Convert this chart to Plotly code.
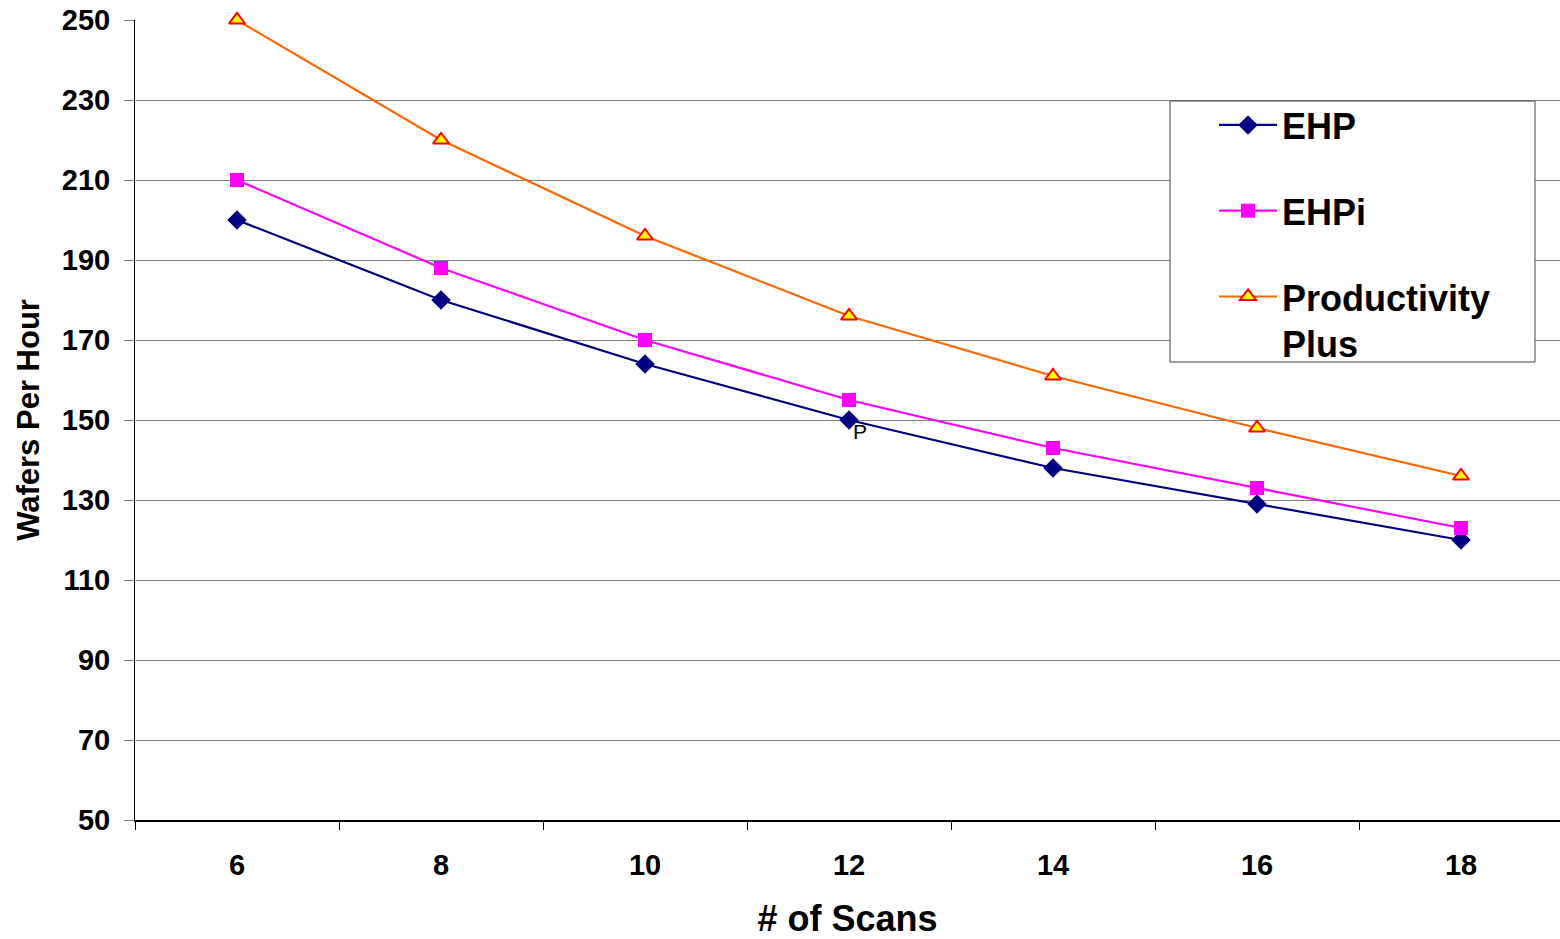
import plotly.graph_objects as go

scans = [6, 8, 10, 12, 14, 16, 18]
ehp = [200, 180, 164, 150, 138, 129, 120]
ehpi = [210, 188, 170, 155, 143, 133, 123]
prod_plus = [250, 220, 196, 176, 161, 148, 136]
y_ticks = [50, 70, 90, 110, 130, 150, 170, 190, 210, 230, 250]

FONT = "Arial, Liberation Sans, sans-serif"

fig = go.Figure()
fig.add_trace(go.Scatter(x=scans, y=ehp, name="EHP", mode="lines+markers", legendgroup="a",
                         cliponaxis=False, line=dict(color="#000080", width=2.2),
                         marker=dict(symbol="diamond", size=15, color="#000080")))
fig.add_trace(go.Scatter(x=scans, y=ehpi, name="EHPi", mode="lines+markers", legendgroup="b",
                         cliponaxis=False, line=dict(color="#FF00FF", width=2.2),
                         marker=dict(symbol="square", size=14, color="#FF00FF")))
fig.add_trace(go.Scatter(x=scans, y=prod_plus, name="Productivity<br>Plus", mode="lines+markers", legendgroup="c",
                         cliponaxis=False, line=dict(color="#FF6600", width=2.2),
                         marker=dict(symbol="triangle-up", size=14, color="#FFFF00",
                                     line=dict(color="#FF0000", width=2))))

fig.add_annotation(x=12, y=150, text="P", showarrow=False, xanchor="left", yanchor="top",
                   xshift=2, yshift=2, font=dict(family=FONT, size=21, color="black"))

# legend frame (paper coords; page pixel values)
W, H, L, T = 1425, 800, 135, 20
def px(x): return (x - L) / W
def py(y): return (T + H - y) / H
fig.add_shape(type="rect", xref="paper", yref="paper", x0=px(1170), x1=px(1535), y0=py(362), y1=py(101),
              fillcolor="white", line=dict(color="#444444", width=1), layer="above")

fig.update_layout(
    width=1560, height=939,
    margin=dict(l=135, r=0, t=20, b=119),
    paper_bgcolor="white", plot_bgcolor="white",
    font=dict(family=FONT, color="black"),
    showlegend=True,
    legend=dict(x=px(1214), y=py(95), xanchor="left", yanchor="top",
                bgcolor="rgba(0,0,0,0)", borderwidth=0,
                font=dict(family=FONT, size=36, color="black", weight="bold"),
                tracegroupgap=36, itemwidth=58, valign="top"),
    xaxis=dict(range=[5, 5 + 1425 / 102], tickvals=scans, ticks="", showgrid=False, automargin=False,
               showline=True, linecolor="black", linewidth=1.5, zeroline=False,
               tickfont=dict(family=FONT, size=29, weight="bold"), ticklabelstandoff=18,
               minor=dict(tick0=5, dtick=2, ticks="outside", ticklen=8, tickcolor="black", showgrid=False),
               title=dict(text="# of Scans", font=dict(family=FONT, size=36, weight="bold"), standoff=29)),
    yaxis=dict(range=[50, 250], tickvals=y_ticks, ticks="outside", ticklen=10, tickcolor="#777777",
               showgrid=True, gridcolor="#808080", gridwidth=1, automargin=False,
               showline=True, linecolor="black", linewidth=1, zeroline=False,
               tickfont=dict(family=FONT, size=29, weight="bold"), ticklabelstandoff=8,
               title=dict(text="Wafers Per Hour", font=dict(family=FONT, size=31, weight="bold"), standoff=12)),
)

fig.write_html("out.html", config={"displayModeBar": False},
               post_script="document.body.style.margin='0';")
